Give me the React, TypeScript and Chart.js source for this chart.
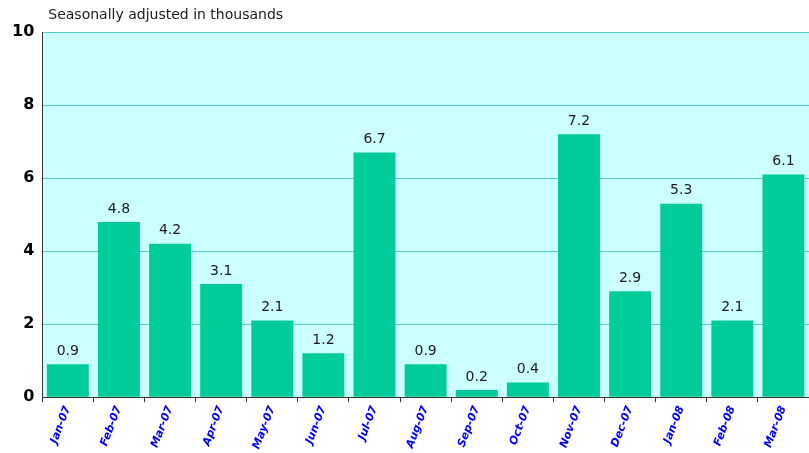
import React, { useEffect, useRef } from "react";
import { Chart, registerables } from "chart.js";

Chart.register(...registerables);

const categories = ["Jan-07","Feb-07","Mar-07","Apr-07","May-07","Jun-07","Jul-07","Aug-07","Sep-07","Oct-07","Nov-07","Dec-07","Jan-08","Feb-08","Mar-08"];
const values = [0.9, 4.8, 4.2, 3.1, 2.1, 1.2, 6.7, 0.9, 0.2, 0.4, 7.2, 2.9, 5.3, 2.1, 6.1];
const yTicks = [0, 2, 4, 6, 8, 10];
const titleText = "Seasonally adjusted in thousands";

const bgPlugin = {
  id: "bgPlugin",
  beforeDraw(chart: any) {
    const { ctx, chartArea } = chart;
    ctx.save();
    ctx.fillStyle = "#CCFFFF";
    ctx.fillRect(chartArea.left, chartArea.top, chartArea.right - chartArea.left, chartArea.bottom - chartArea.top);
    ctx.restore();
  },
};

const labelPlugin = {
  id: "labelPlugin",
  afterDatasetsDraw(chart: any) {
    const { ctx, chartArea } = chart;
    ctx.save();
    ctx.font = "14px 'DejaVu Sans', sans-serif";
    ctx.fillStyle = "#1a1a1a";
    ctx.textAlign = "center";
    ctx.textBaseline = "bottom";
    const meta = chart.getDatasetMeta(0);
    meta.data.forEach((bar: any, i: number) => {
      ctx.fillText(values[i].toFixed(1), bar.x, bar.y - 6);
    });
    ctx.font = "14px 'DejaVu Sans', sans-serif";
    ctx.textAlign = "left";
    ctx.textBaseline = "middle";
    ctx.fillText(titleText, chartArea.left + 6, 15);
    ctx.restore();
  },
};

export default function App() {
  const ref = useRef<HTMLCanvasElement>(null);
  useEffect(() => {
    document.body.style.margin = "0";
    const chart = new Chart(ref.current!, {
      type: "bar",
      data: {
        labels: categories,
        datasets: [
          {
            data: values,
            backgroundColor: "#00CC99",
            borderWidth: 0,
            categoryPercentage: 1,
            barPercentage: 0.82,
          },
        ],
      },
      options: {
        animation: false,
        responsive: false,
        maintainAspectRatio: false,
        layout: { padding: { top: 32, right: 0, left: 4, bottom: 0 } },
        plugins: { legend: { display: false }, tooltip: { enabled: false } },
        scales: {
          x: {
            offset: true,
            grid: {
              offset: true,
              drawOnChartArea: false,
              drawTicks: true,
              tickLength: 5,
              color: "#333333",
            },
            border: { color: "#333333", width: 1 },
            ticks: {
              color: "#0000FF",
              font: { family: "'DejaVu Sans', sans-serif", size: 11, style: "italic", weight: "bold" },
              minRotation: 69,
              maxRotation: 69,
              padding: 2,
              autoSkip: false,
            },
          },
          y: {
            min: 0,
            max: 10,
            afterBuildTicks(scale: any) {
              scale.ticks = yTicks.map((v) => ({ value: v }));
            },
            grid: {
              color: "#55CCCC",
              lineWidth: 1,
              drawTicks: false,
            },
            border: { color: "#333333", width: 1 },
            ticks: {
              color: "#000000",
              font: { family: "'DejaVu Sans', sans-serif", size: 16, weight: "bold" },
              padding: 8,
            },
          },
        },
      },
      plugins: [bgPlugin, labelPlugin],
    });
    return () => chart.destroy();
  }, []);
  return <canvas ref={ref} width={809} height={453} style={{ display: "block" }} />;
}
